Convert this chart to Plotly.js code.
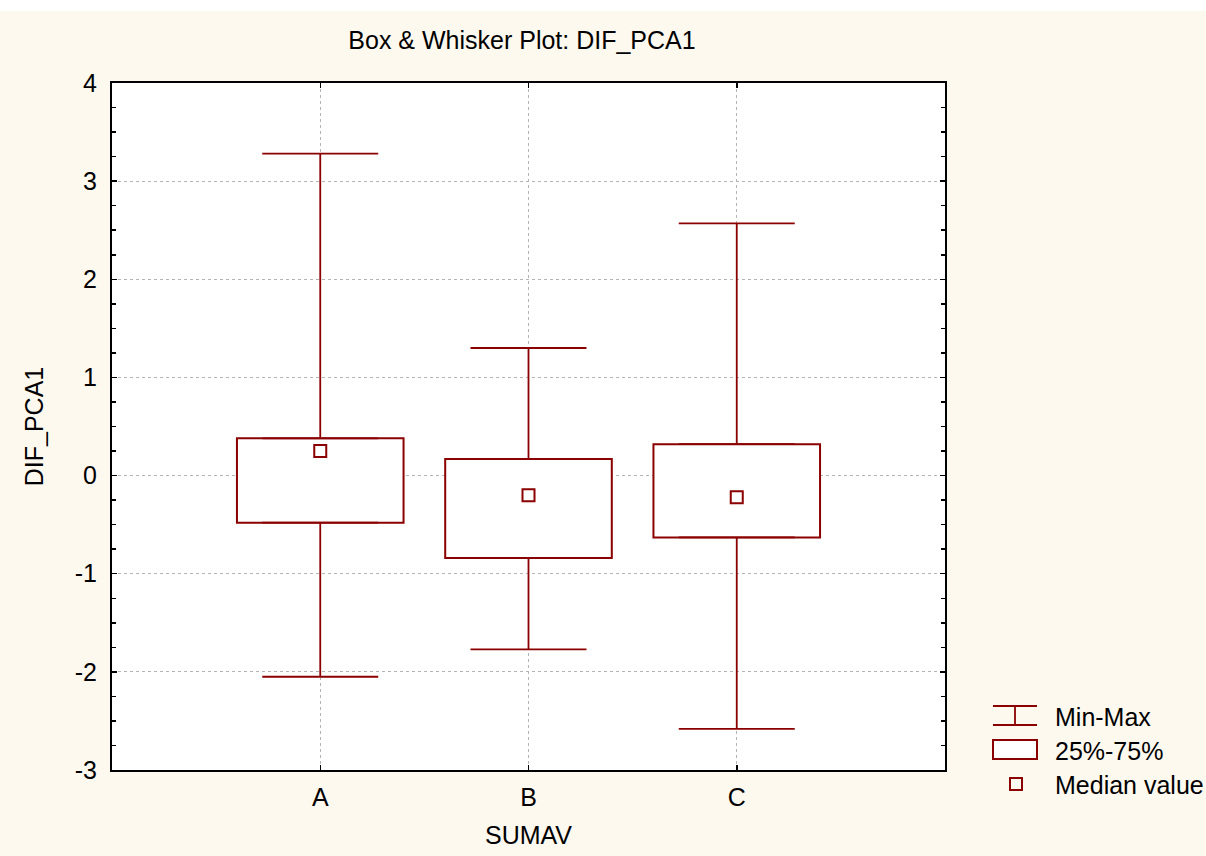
<!DOCTYPE html>
<html>
<head>
<meta charset="utf-8">
<script src="https://cdn.plot.ly/plotly-3.0.1.min.js"></script>
<style>
  html, body { margin: 0; padding: 0; background: #fef9ef; }
  #chart { width: 1206px; height: 856px; }
</style>
</head>
<body>
<div id="chart"></div>
<script>
// ---- data ----
const categories = ['A', 'B', 'C'];
const minVals    = [-2.05, -1.77, -2.58];
const q1Vals     = [-0.48, -0.84, -0.63];
const medianVals = [ 0.25, -0.20, -0.22];
const q3Vals     = [ 0.38,  0.17,  0.32];
const maxVals    = [ 3.28,  1.30,  2.57];
const yTickVals  = [-3, -2, -1, 0, 1, 2, 3, 4];
const yTickText  = ['-3', '-2', '-1', '0', '1', '2', '3', '4'];
const legendLabels = ['Min-Max', '25%-75%', 'Median value'];
const chartTitle = 'Box & Whisker Plot: DIF_PCA1';
const xTitle = 'SUMAV';
const yTitle = 'DIF_PCA1';

// ---- style ----
const RED = '#8b0000';
const CREAM = '#fef9ef';
const FONT = 'Liberation Sans, Arial, sans-serif';
const FS = 25;
const W = 1206, H = 856;
const M = {l: 112, r: 261, t: 83, b: 86};
const PW = W - M.l - M.r, PH = H - M.t - M.b;
const px = x => (x - M.l) / PW;          // pixel -> paper x
const py = y => (H - M.b - y) / PH;      // pixel -> paper y

const zeros = categories.map(() => 0);

const traces = [
  {
    type: 'bar', x: categories,
    base: q1Vals,
    y: q3Vals.map((v, i) => v - q1Vals[i]),
    width: 0.8,
    marker: {color: '#ffffff', line: {color: RED, width: 2}},
    showlegend: false, hoverinfo: 'skip'
  },
  {
    type: 'scatter', mode: 'markers', x: categories, y: q3Vals,
    marker: {size: 1, opacity: 0},
    error_y: {type: 'data', symmetric: false,
      array: maxVals.map((v, i) => v - q3Vals[i]), arrayminus: zeros,
      width: 58, thickness: 1.8, color: RED},
    showlegend: false, hoverinfo: 'skip'
  },
  {
    type: 'scatter', mode: 'markers', x: categories, y: q1Vals,
    marker: {size: 1, opacity: 0},
    error_y: {type: 'data', symmetric: false,
      array: zeros, arrayminus: q1Vals.map((v, i) => v - minVals[i]),
      width: 58, thickness: 1.8, color: RED},
    showlegend: false, hoverinfo: 'skip'
  },
  {
    type: 'scatter', mode: 'markers', x: categories, y: medianVals,
    marker: {symbol: 'square-open', size: 12, color: RED, line: {color: RED, width: 2}},
    showlegend: false
  }
];

// custom legend
const lx0 = 993, lx1 = 1037, lxm = 1015;
const shapes = [
  // white strip at top of the image
  {type: 'rect', xref: 'paper', yref: 'paper', layer: 'below',
   x0: px(0), x1: px(W), y0: py(11), y1: py(0),
   fillcolor: '#ffffff', line: {width: 0}},
  // Min-Max icon
  {type: 'line', xref: 'paper', yref: 'paper', x0: px(lx0), x1: px(lx1), y0: py(706), y1: py(706), line: {color: RED, width: 1.8}},
  {type: 'line', xref: 'paper', yref: 'paper', x0: px(lx0), x1: px(lx1), y0: py(725), y1: py(725), line: {color: RED, width: 1.8}},
  {type: 'line', xref: 'paper', yref: 'paper', x0: px(lxm), x1: px(lxm), y0: py(706), y1: py(725), line: {color: RED, width: 1.8}},
  // 25%-75% icon
  {type: 'rect', xref: 'paper', yref: 'paper', x0: px(lx0), x1: px(lx1), y0: py(759), y1: py(740), fillcolor: '#ffffff', line: {color: RED, width: 2}},
  // median icon
  {type: 'rect', xref: 'paper', yref: 'paper', x0: px(1010), x1: px(1022), y0: py(790), y1: py(778), fillcolor: 'rgba(0,0,0,0)', line: {color: RED, width: 2}}
];
const legendY = [717, 751, 785];
const annotations = legendLabels.map((t, i) => ({
  text: t, xref: 'paper', yref: 'paper', x: px(1053), y: py(legendY[i]),
  xanchor: 'left', yanchor: 'middle', showarrow: false,
  font: {family: FONT, size: FS, color: '#000'}
}));

const axisCommon = {
  showline: true, linecolor: '#000', linewidth: 2, mirror: 'ticks',
  ticks: 'inside', ticklen: 5, tickwidth: 1.5, tickcolor: '#000',
  showgrid: true, gridcolor: '#b4b4b4', griddash: 'dot', gridwidth: 1,
  zeroline: false, automargin: false,
  tickfont: {family: FONT, size: FS, color: '#000'}
};

const layout = {
  width: W, height: H,
  margin: M,
  paper_bgcolor: CREAM, plot_bgcolor: '#ffffff',
  font: {family: FONT, color: '#000'},
  showlegend: false,
  title: {text: chartTitle, xref: 'paper', x: px(522), xanchor: 'center',
          yref: 'container', y: 1 - 40 / H, yanchor: 'middle',
          font: {family: FONT, size: FS, color: '#000'}},
  xaxis: Object.assign({}, axisCommon, {
    type: 'category', range: [-1, 3],
    ticklabelstandoff: 4,
    title: {text: xTitle, standoff: 16, font: {family: FONT, size: FS, color: '#000'}}
  }),
  yaxis: Object.assign({}, axisCommon, {
    range: [-3, 4], tickmode: 'array', tickvals: yTickVals, ticktext: yTickText,
    ticklabelstandoff: 8,
    minor: {dtick: 0.25, tick0: 0, ticks: 'inside', ticklen: 4, tickwidth: 1.5, tickcolor: '#000', showgrid: false},
    title: {text: yTitle, standoff: 24, font: {family: FONT, size: FS, color: '#000'}}
  }),
  shapes: shapes,
  annotations: annotations
};

Plotly.newPlot('chart', traces, layout, {displayModeBar: false, staticPlot: true});
</script>
</body>
</html>
